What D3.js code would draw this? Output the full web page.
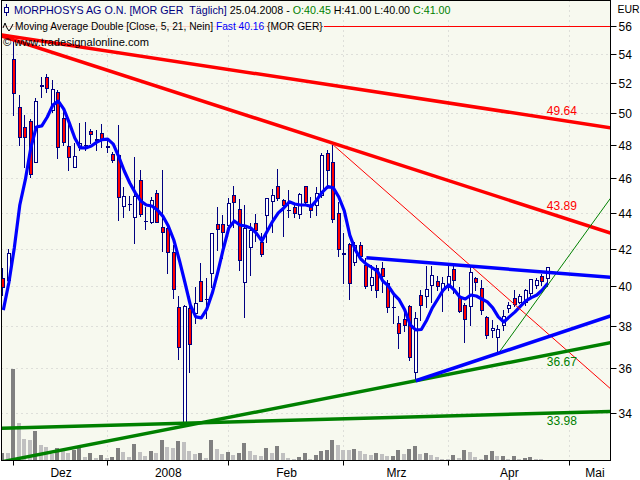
<!DOCTYPE html>
<html><head><meta charset="utf-8">
<script src="https://cdn.jsdelivr.net/npm/d3@7"></script>
<style>body{margin:0;background:#fff}svg{display:block}text{font-family:"Liberation Sans",Arial,sans-serif}</style>
</head><body>
<svg id="c" width="640" height="480"></svg>
<script>
// ---------- data ----------
const openP = [40.42,40.33,53.61,50.39,49.11,49.54,46.98,51.79,52.39,50.22,
51.42,49.69,47.94,46.68,47.86,48.00,48.90,48.34,48.77,47.94,
47.43,47.39,44.37,44.49,43.73,45.89,43.54,43.45,45.11,43.21,
43.11,41.84,38.94,33.60,38.89,38.64,40.29,39.36,40.72,43.34,
43.34,43.30,45.01,44.19,40.22,42.08,43.39,42.38,43.86,44.68,
45.53,44.72,44.12,44.33,43.92,45.53,44.33,44.43,45.01,47.49,
46.98,44.00,41.69,42.25,41.27,42.20,41.12,40.07,40.95,40.95,
40.16,38.97,38.14,38.34,39.02,35.84,39.56,39.51,40.08,40.30,
39.82,40.08,40.91,39.45,39.06,38.98,40.42,39.91,38.47,37.82,
37.47,38.06,38.89,39.40,39.23,39.21,39.65,40.08,40.55,40.45];
const highP = [40.97,41.97,55.20,51.20,49.90,49.64,50.98,52.43,52.58,52.20,
51.53,50.35,49.37,48.12,49.39,49.45,49.00,48.94,49.32,48.31,
47.57,49.26,45.49,44.95,47.29,46.48,44.33,44.91,45.30,46.48,
43.41,42.20,39.49,39.06,39.49,39.96,41.24,40.44,42.85,44.32,
43.86,44.82,45.53,44.76,44.43,43.39,43.90,42.84,44.83,45.34,
46.52,44.78,45.30,44.49,45.10,45.56,44.91,45.49,47.53,47.70,
48.00,44.63,42.84,42.31,42.38,42.38,41.48,41.12,41.12,41.30,
40.33,39.64,38.51,38.72,39.06,38.72,39.82,41.07,41.07,40.55,
40.48,41.07,41.07,39.97,39.17,41.03,40.51,40.33,38.51,38.31,
38.06,38.80,39.23,39.82,39.63,39.87,40.38,40.44,40.65,41.00];
const lowP = [39.56,40.18,49.90,48.00,46.68,46.06,46.96,51.09,51.40,50.09,
47.19,48.00,46.48,46.66,47.70,47.70,48.12,47.70,47.88,47.57,
46.96,43.58,43.75,44.15,42.33,43.80,43.08,43.41,43.47,41.89,
40.72,39.40,36.41,33.60,35.84,38.18,39.26,38.41,39.98,41.93,
41.50,43.24,43.21,40.86,38.48,40.60,42.42,41.60,42.38,42.92,
44.72,42.69,43.73,43.73,43.67,44.55,43.73,43.86,44.89,45.40,
43.47,41.60,40.16,39.35,41.12,41.50,39.92,39.82,39.45,39.73,
38.70,38.18,36.93,37.79,36.38,35.42,38.31,38.96,39.22,39.82,
38.77,39.82,39.65,38.70,37.25,38.06,39.82,38.61,37.43,37.48,
36.69,37.82,38.70,39.00,39.14,39.06,39.51,39.92,40.08,40.00];
const closeP = [39.99,41.77,51.31,48.48,48.52,46.24,50.80,51.86,51.64,51.58,
47.90,48.21,47.25,47.33,48.14,48.03,48.67,48.37,48.31,47.88,
47.08,44.91,44.95,44.46,44.95,43.90,43.55,44.72,43.49,42.92,
41.84,39.86,37.01,39.00,37.14,39.14,39.28,39.38,42.84,43.06,
42.92,44.55,44.59,41.39,43.11,43.02,43.02,41.71,44.82,45.01,
44.82,44.43,44.15,43.96,45.07,44.62,44.15,45.11,47.39,46.48,
43.62,41.97,41.74,40.19,42.20,41.60,40.04,40.51,39.82,40.55,
38.96,38.95,37.68,38.06,36.53,38.42,39.06,39.86,40.60,40.04,
40.16,40.55,40.33,38.77,38.34,40.77,40.24,38.80,37.57,37.92,
37.85,38.51,39.06,39.11,39.49,39.82,40.37,40.33,40.30,41.00];
const volume = [73,73,910,373,210,200,290,150,133,60,
123,100,73,100,123,33,77,23,57,23,
33,123,83,33,167,83,43,90,73,200,
133,123,190,183,90,60,73,23,200,110,
60,83,50,77,177,90,50,40,120,73,
140,77,20,10,30,77,10,50,90,100,
200,150,100,100,110,90,67,50,77,60,
40,43,100,60,110,140,67,73,57,33,
17,17,50,27,100,80,33,17,50,90,
40,43,17,43,17,23,30,17,10,7];
const maFast = [38.80,40.18,42.04,44.43,45.89,47.82,49.13,49.20,49.77,50.54,
50.80,50.28,49.39,48.44,47.82,47.82,47.94,48.18,48.34,48.37,
48.06,47.27,46.42,45.71,45.13,44.66,44.43,44.37,44.15,43.80,
43.24,42.47,41.39,40.23,39.06,38.46,38.41,38.85,39.66,40.75,
41.98,43.13,43.52,43.30,43.24,43.13,42.85,42.42,42.97,43.52,
43.98,44.26,44.61,44.49,44.43,44.43,44.35,44.72,45.18,45.50,
45.42,44.89,44.09,42.74,41.93,41.44,41.17,40.99,40.80,40.28,
40.03,39.61,39.31,38.80,38.06,37.82,37.84,38.31,38.91,39.36,
39.82,40.08,39.82,39.46,39.36,39.56,39.51,39.36,39.21,38.91,
38.46,38.21,38.46,38.70,38.98,39.26,39.43,39.56,39.82,40.16];
const monthLabels = ["Dez","2008","Feb","Mrz","Apr","Mai"];
const monthStartIndex = [2,19,41,62,81,103];
const priceTicks = [34,36,38,40,42,44,46,48,50,52,54,56];
// trend lines: [startIndex, startPrice, endIndex, endPrice]
const trendRedUpper  = [-0.33,55.33,100,49.64];
const trendRedLower  = [-0.33,55.25,100,43.89];
const trendGreenRise = [75,35.42,100,36.67];
const trendGreenFlat = [-0.33,33.32,100,33.98];
const trendRedThin   = [60,48.00,110.3,35.08];
const trendBlueUpper = [66,41.51,110.4,40.47];
const trendBlueLower = [75,35.42,110.4,38.51];
const trendGreenThin = [90,36.69,109.9,44.60];
const trendLabels = ["49.64","43.89","36.67","33.98"];
const refLevel = 56;
const titleText = "MORPHOSYS AG O.N. [MOR GER  Täglich]";
const dateText = "25.04.2008";
const indicatorText = "Moving Average Double [Close, 5, 21, Nein]";
const symbolText = "{MOR GER}";
const copyrightText = "© www.tradesignalonline.com";
const currency = "EUR";

// ---------- chart ----------
const svg = d3.select("#c");
const P = {l:1.5, r:610.5, t:0.5, b:460.5};
const n = closeP.length;
const x = d3.scaleLinear().domain([-(3.3-P.l)/5.5, (P.r-3.3)/5.5]).range([P.l, P.r]);
const y = d3.scaleLog().domain([34,56]).range([412.5,25.5]);
const yv = d3.scaleLinear().domain([0, d3.max(volume)]).range([P.b, 369]);

svg.append("rect").attr("width",640).attr("height",480).attr("fill","#fff");
svg.append("rect").attr("x",P.l).attr("y",P.t).attr("width",P.r-P.l).attr("height",P.b-P.t).attr("fill","#f7f9ef");
svg.append("clipPath").attr("id","clip").append("rect").attr("x",P.l+0.5).attr("y",P.t+0.5).attr("width",P.r-P.l-1).attr("height",P.b-P.t-1);
const g = svg.append("g").attr("clip-path","url(#clip)");

// grid
g.selectAll(".hg").data(priceTicks).join("line")
  .attr("x1",P.l).attr("x2",P.r).attr("y1",d=>Math.round(y(d))+0.5).attr("y2",d=>Math.round(y(d))+0.5)
  .attr("stroke","#c4c4c4").attr("stroke-dasharray","1,4");
g.selectAll(".vg").data(monthStartIndex.slice(1)).join("line")
  .attr("x1",d=>Math.round(x(d))-0.5).attr("x2",d=>Math.round(x(d))-0.5).attr("y1",P.t).attr("y2",P.b)
  .attr("stroke","#c4c4c4").attr("stroke-dasharray","1,4");

// volume
g.selectAll(".vol").data(volume).join("rect")
  .attr("x",(d,i)=>Math.round(x(i))-3).attr("width",4)
  .attr("y",d=>Math.round(yv(d))).attr("height",d=>Math.max(0,Math.round(P.b-yv(d))))
  .attr("fill",(d,i)=> (i===0 || d>volume[i-1]) ? "#808080" : "#c0c0c0");

// reference line at 56
g.append("line").attr("x1",P.l).attr("x2",P.r).attr("y1",Math.round(y(refLevel))+0.5).attr("y2",Math.round(y(refLevel))+0.5).attr("stroke","#ff0000");
svg.append("text").attr("x",18).attr("y",Math.round(y(refLevel))-5).attr("font-size",9).attr("fill","#f5b4b4").text(refLevel);

// candles
const navy = "#000080";
const cg = g.append("g");
for (let i=0;i<n;i++){
  const X = Math.round(x(i));
  cg.append("line").attr("x1",X-0.5).attr("x2",X-0.5).attr("y1",Math.round(y(highP[i]))).attr("y2",Math.round(y(lowP[i]))+1).attr("stroke",navy);
  const top = Math.round(y(Math.max(openP[i],closeP[i])));
  const bot = Math.round(y(Math.min(openP[i],closeP[i])));
  cg.append("rect").attr("x",X-2).attr("width",4).attr("y",top).attr("height",Math.max(1,bot-top+1)).attr("fill",navy);
  if (bot-top-1>0) cg.append("rect").attr("x",X-1).attr("width",2).attr("y",top+1).attr("height",bot-top-1)
     .attr("fill", closeP[i]<openP[i] ? "#ff0000" : "#ffffff");
}

// moving average
g.append("path").datum(maFast).attr("fill","none").attr("stroke","#0000ff").attr("stroke-width",3.2).attr("stroke-linejoin","round")
  .attr("d", d3.line().x((d,i)=>x(i)).y(d=>y(d)));

// trend lines
function trend(t, color, w, extendLeft){
  const x0=x(t[0]), y0=y(t[1]), x1=x(t[2]), y1=y(t[3]);
  const m=(y1-y0)/(x1-x0);
  const xs = extendLeft ? P.l : x0, xe = P.r;
  g.append("line").attr("x1",xs).attr("y1",y0+m*(xs-x0)).attr("x2",xe).attr("y2",y0+m*(xe-x0))
    .attr("stroke",color).attr("stroke-width",w);
  return i => y0 + m*(x(i)-x0);
}
const fRU = trend(trendRedUpper,"#ff0000",3.5,false);
const fRL = trend(trendRedLower,"#ff0000",3.5,false);
trend(trendRedThin,"#ff0000",1,false);
const fGR = trend(trendGreenRise,"#008000",3.5,true);
const fGF = trend(trendGreenFlat,"#008000",3.5,false);
trend(trendGreenThin,"#008000",1,false);
trend(trendBlueUpper,"#0000ff",3.5,false);
trend(trendBlueLower,"#0000ff",3.5,false);

const lx = x(n-1)-1;
[[fRU,"#ff0000",-4],[fRL,"#ff0000",-4],[fGR,"#008000",12],[fGF,"#008000",12]].forEach((a,k)=>{
  svg.append("text").attr("x",lx).attr("y",a[0](100)+a[2]).attr("font-size",12).attr("fill",a[1]).text(trendLabels[k]);
});

// frame
svg.append("rect").attr("x",P.l).attr("y",P.t).attr("width",P.r-P.l).attr("height",P.b-P.t).attr("fill","none").attr("stroke","#000");

// right axis
const ra = svg.append("g");
priceTicks.forEach(v=>{
  const yy=Math.round(y(v))+0.5;
  ra.append("line").attr("x1",P.r).attr("x2",P.r+6).attr("y1",yy).attr("y2",yy).attr("stroke","#000");
  ra.append("text").attr("x",P.r+8).attr("y",yy+4).attr("font-size",12).text(v);
});
ra.append("text").attr("x",P.r+7).attr("y",13).attr("font-size",10.5).text(currency);

// bottom axis
monthStartIndex.forEach((s,k)=>{
  const xx=Math.round(x(s))-0.5;
  svg.append("line").attr("x1",xx).attr("x2",xx).attr("y1",P.b).attr("y2",P.b+5).attr("stroke","#000");
  const next = k<monthStartIndex.length-1 ? x(monthStartIndex[k+1]) : 620;
  svg.append("text").attr("x",(x(s)+next)/2).attr("y",477).attr("font-size",12).attr("text-anchor","middle").text(monthLabels[k]);
});

// legend backgrounds
svg.append("rect").attr("x",2).attr("y",1).attr("width",451).attr("height",16).attr("fill","#f7f9ef").attr("opacity",0.85);
svg.append("rect").attr("x",2).attr("y",17).attr("width",322).attr("height",16).attr("fill","#f7f9ef").attr("opacity",0.85);
// legend rows: each part its own text element, laid out left to right, sized to fit width
const L = n-1;
function row(yb, x0, parts, target){
  const fs0 = 12;
  const els = parts.map(p=>svg.append("text").attr("y",yb).attr("font-size",fs0).attr("fill",p[1]).style("white-space","pre").text(p[0]));
  const total = d3.sum(els, e=>e.node().getComputedTextLength());
  const fs = fs0*target/total;
  let cx = x0;
  els.forEach(e=>{ e.attr("font-size",fs).attr("x",cx); cx += e.node().getComputedTextLength(); });
}
row(14,14,[[titleText,navy],[" "+dateText+" - ","#000"],["O:"+openP[L].toFixed(2),"#008000"],[" H:"+highP[L].toFixed(2)+" L:"+lowP[L].toFixed(2)+" ","#000"],["C:"+closeP[L].toFixed(2),"#008000"]],437);
row(29.5,15,[[indicatorText+" ","#000"],["Fast "+maFast[L].toFixed(2),"#0000ff"],[" "+symbolText,"#000"]],308);
row(46,3,[[copyrightText,"#000"]],146);
// icons
const ic = svg.append("g").attr("stroke",navy).attr("fill","none");
ic.append("line").attr("x1",6.5).attr("x2",6.5).attr("y1",4).attr("y2",16);
ic.append("rect").attr("x",4.5).attr("y",7.5).attr("width",4).attr("height",5).attr("fill","#fff");
svg.append("path").attr("d","M3,28 L5,23 L7,28 L9,31 L11,28 L13,24").attr("fill","none").attr("stroke","#000");
</script>
</body></html>
